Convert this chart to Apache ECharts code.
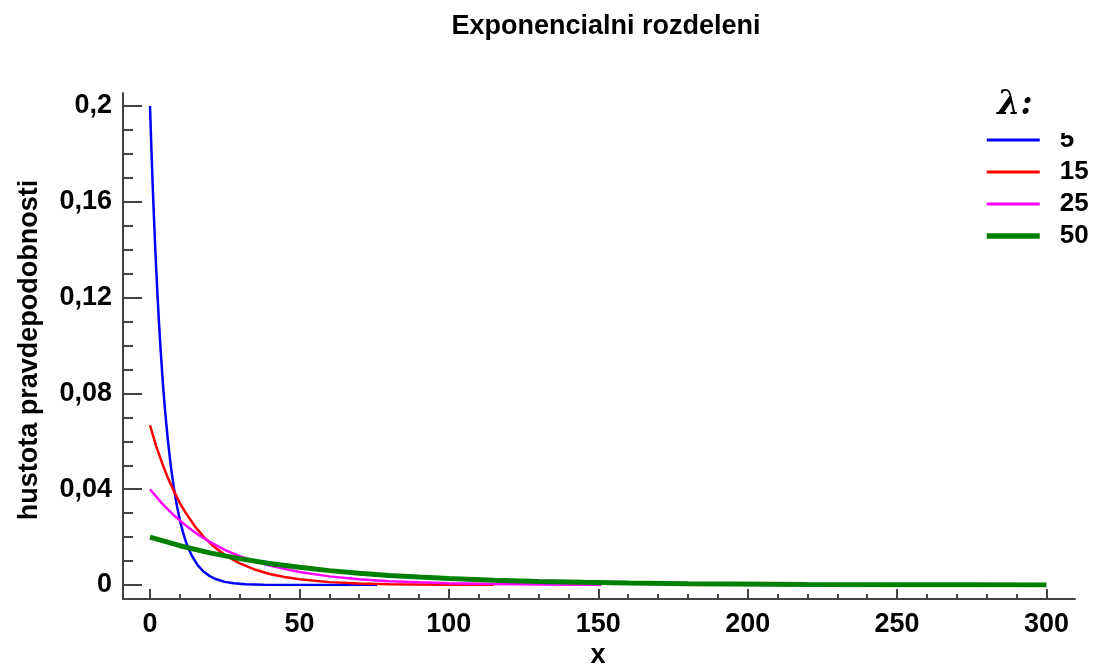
<!DOCTYPE html>
<html>
<head>
<meta charset="utf-8">
<title>Exponencialni rozdeleni</title>
<script src="https://cdn.jsdelivr.net/npm/echarts@6/dist/echarts.min.js"></script>
<style>
  html, body { margin: 0; padding: 0; background: #fff; }
  #chart { width: 1094px; height: 672px; }
</style>
</head>
<body>
<div id="chart"></div>
<script>
// Density curves of the exponential distribution for several means (lambda)
const lambdas = ['5', '15', '25', '50'];
const colors = ['#0000ff', '#ff0000', '#ff00ff', '#008000'];

// [x, density] points for each curve
const curve5 = [
  [0, 0.2], [0.5, 0.181], [1, 0.1637], [1.5, 0.1482], [2, 0.134], [2.5, 0.1213], [3, 0.1098],
  [3.5, 0.0993], [4, 0.0899], [4.5, 0.0813], [5, 0.0736], [5.5, 0.0666], [6, 0.0602],
  [7, 0.0493], [8, 0.0404], [9, 0.0331], [10, 0.0271], [11, 0.0222], [12, 0.0181],
  [13, 0.0149], [14, 0.0122], [16, 0.0082], [18, 0.0055], [20, 0.0037], [22, 0.0025],
  [25, 0.0013], [28, 0.0007], [32, 0.0003], [38, 0.0001], [45, 0.00003], [60, 0], [76, 0]
];
const curve15 = [
  [0, 0.0667], [2, 0.0582], [4, 0.0511], [6, 0.0447], [8, 0.0392], [10, 0.0342],
  [12, 0.03], [15, 0.0245], [18, 0.0201], [21, 0.0164], [25, 0.0126], [30, 0.009],
  [35, 0.0065], [40, 0.0046], [45, 0.0033], [50, 0.0024], [60, 0.0012], [70, 0.0006],
  [80, 0.0003], [90, 0.0002], [100, 0.0001], [115, 0.00005]
];
const curve25 = [
  [0, 0.04], [4, 0.0341], [8, 0.0291], [12, 0.0248], [16, 0.0211], [20, 0.018],
  [25, 0.0147], [30, 0.012], [35, 0.0099], [40, 0.0081], [50, 0.0054], [60, 0.0036],
  [70, 0.0024], [80, 0.0016], [90, 0.0011], [100, 0.0007], [115, 0.0004],
  [130, 0.0002], [151, 0.0001]
];
const curve50 = [
  [0, 0.02], [10, 0.0164], [20, 0.0134], [30, 0.011], [40, 0.009], [50, 0.0074],
  [60, 0.006], [70, 0.0049], [80, 0.004], [90, 0.0033], [100, 0.0027], [115, 0.002],
  [130, 0.0015], [145, 0.0011], [160, 0.0008], [180, 0.0005], [195, 0.0004],
  [220, 0.0002], [250, 0.0001], [275, 0.00008], [300, 0.00005]
];
const curves = [curve5, curve15, curve25, curve50];
const lineWidths = [2.5, 2.5, 2.5, 5];

const xTicks = [0, 50, 100, 150, 200, 250, 300];
const yTickLabels = ['0', '0,04', '0,08', '0,12', '0,16', '0,2'];

const FONT = 'Liberation Sans, Arial, sans-serif';
const axisColor = '#444';

const chart = echarts.init(document.getElementById('chart'), null, { renderer: 'canvas' });

const series = curves.map((pts, i) => ({
  name: lambdas[i],
  type: 'line',
  xAxisIndex: 1,
  yAxisIndex: 1,
  data: pts,
  symbol: 'none',
  showSymbol: false,
  smooth: false,
  animation: false,
  lineStyle: { color: colors[i], width: lineWidths[i] },
  itemStyle: { color: colors[i] }
}));

chart.setOption({
  animation: false,
  backgroundColor: '#fff',
  title: {
    text: 'Exponencialni rozdeleni',
    left: 601,
    textAlign: 'center',
    top: 8,
    textStyle: { fontFamily: FONT, fontWeight: 'bold', fontSize: 27, color: '#000' }
  },
  legend: {
    data: lambdas.map((name, i) => ({
      name: name,
      lineStyle: { color: colors[i], width: lineWidths[i] + 0.5 }
    })),
    orient: 'vertical',
    left: 979,
    top: 120,
    itemWidth: 53,
    itemHeight: 14,
    itemGap: 2,
    itemStyle: { opacity: 0 },
    textStyle: {
      fontFamily: FONT, fontWeight: 'bold', fontSize: 26, color: '#000',
      lineHeight: 30, padding: [0, 0, 0, 15]
    }
  },
  grid: [
    // frame: the two axis lines
    { left: 123, right: 19, top: 93, bottom: 73 },
    // plotting area
    { left: 150, right: 47.5, top: 106, bottom: 87 }
  ],
  xAxis: [
    {
      gridIndex: 0, type: 'value', min: 0, max: 1,
      axisLine: { show: true, onZero: false, lineStyle: { color: axisColor, width: 2 } },
      axisTick: { show: false }, axisLabel: { show: false }, splitLine: { show: false }
    },
    {
      gridIndex: 1, type: 'value', min: 0, max: 300, interval: 50,
      position: 'bottom', offset: 14,
      axisLine: { show: false, onZero: false },
      axisTick: { show: true, inside: true, length: 10, lineStyle: { color: axisColor, width: 2 } },
      minorTick: { show: true, splitNumber: 5, length: 5, lineStyle: { color: axisColor, width: 2 } },
      axisLabel: {
        margin: 12, color: '#000', fontFamily: FONT, fontWeight: 'bold', fontSize: 27,
        formatter: v => String(xTicks[Math.round(v / 50)])
      },
      splitLine: { show: false }
    }
  ],
  yAxis: [
    {
      gridIndex: 0, type: 'value', min: 0, max: 1,
      axisLine: { show: true, onZero: false, lineStyle: { color: axisColor, width: 2 } },
      axisTick: { show: false }, axisLabel: { show: false }, splitLine: { show: false }
    },
    {
      gridIndex: 1, type: 'value', min: 0, max: 0.2, interval: 0.04,
      position: 'left', offset: 27,
      axisLine: { show: false, onZero: false },
      axisTick: { show: true, inside: true, length: 19, lineStyle: { color: axisColor, width: 2 } },
      minorTick: { show: true, splitNumber: 4, length: 10, lineStyle: { color: axisColor, width: 2 } },
      axisLabel: {
        margin: 11, color: '#000', fontFamily: FONT, fontWeight: 'bold', fontSize: 27,
        formatter: v => yTickLabels[Math.round(v / 0.04)]
      },
      splitLine: { show: false }
    }
  ],
  graphic: [
    {
      type: 'text', x: 30, y: 350, rotation: Math.PI / 2,
      style: {
        text: 'hustota pravdepodobnosti', fill: '#000',
        font: 'bold 27px ' + FONT, textAlign: 'center', textVerticalAlign: 'middle'
      }
    },
    {
      type: 'text', x: 598, y: 656,
      style: {
        text: 'x', fill: '#000', font: 'bold 27px ' + FONT,
        textAlign: 'center', textVerticalAlign: 'middle'
      }
    },
    {
      type: 'text', x: 1015, y: 105, z: 101,
      style: {
        text: 'λ:', fill: '#000', font: 'italic bold 33px DejaVu Serif, serif',
        textAlign: 'center', textVerticalAlign: 'middle'
      }
    },
    {
      // white header strip that overlaps the top of the first legend label
      type: 'rect', z: 100,
      shape: { x: 1045, y: 118, width: 49, height: 15 },
      style: { fill: '#fff' }
    }
  ],
  series: series
});
</script>
</body>
</html>
